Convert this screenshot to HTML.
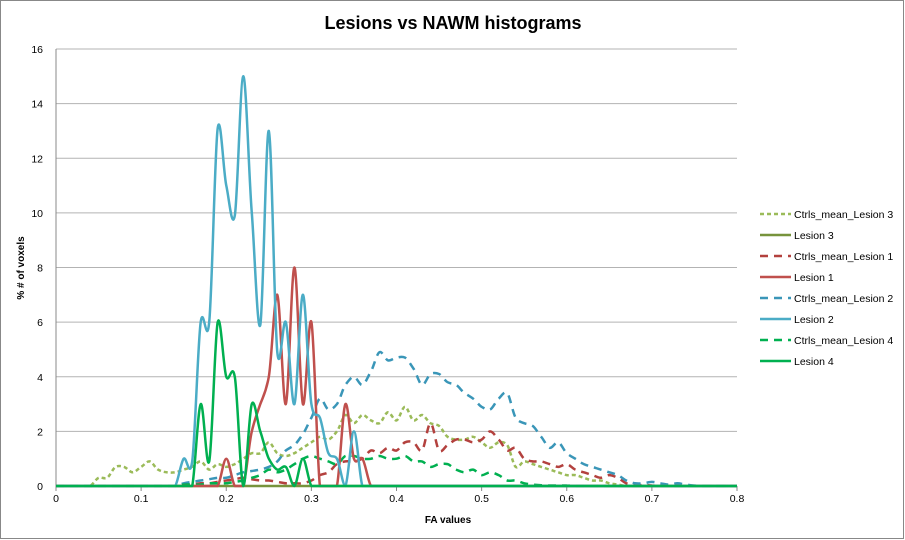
<!DOCTYPE html>
<html><head><meta charset="utf-8">
<style>
body{margin:0;background:#fff;}
svg{display:block;font-family:"Liberation Sans",sans-serif;}
</style></head>
<body>
<svg id="chart" width="905" height="540" viewBox="0 0 905 540">
<rect x="0.5" y="0.5" width="903" height="538" fill="#fff" stroke="#888"/>
<text x="453" y="29" text-anchor="middle" font-size="18" font-weight="bold" fill="#000">Lesions vs NAWM histograms</text>
<g id="grid"></g><g id="axes"></g><g id="series"></g><g id="legend"></g>
<text x="448" y="523" text-anchor="middle" font-size="10" font-weight="bold">FA values</text>
<text transform="translate(24,268) rotate(-90)" text-anchor="middle" font-size="10" font-weight="bold">% # of voxels</text>
</svg>
<script>
const xTicks=[0,0.1,0.2,0.3,0.4,0.5,0.6,0.7,0.8];
const yTicks=[0,2,4,6,8,10,12,14,16];
const seriesNames=["Ctrls_mean_Lesion 3","Lesion 3","Ctrls_mean_Lesion 1","Lesion 1","Ctrls_mean_Lesion 2","Lesion 2","Ctrls_mean_Lesion 4","Lesion 4"];
// values at FA = 0.00, 0.01, ... 0.80
const ctrl3=[0,0,0,0,0,.3,.3,.7,.7,.5,.7,.9,.6,.5,.5,.6,.7,.9,.6,.8,.7,.8,1,1.2,1.2,1.6,1.2,1.1,1.2,1.4,1.6,1.8,1.7,2,2.6,2.3,2.6,2.4,2.3,2.7,2.4,2.9,2.4,2.6,2.3,2.2,1.8,1.7,1.7,1.8,1.6,1.4,1.6,1.5,.7,.9,.8,.7,.6,.5,.4,.4,.3,.2,.2,.1,.05,0,0,0,0,0,0,0,0,0,0,0,0,0,0];
const lesion3=[0,0,0,0,0,0,0,0,0,0,0,0,0,0,0,0,0,0,0,0,0,0,0,0,0,0,0,0,0,0,0,0,0,0,0,0,0,0,0,0,0,0,0,0,0,0,0,0,0,0,0,0,0,0,0,0,0,0,0,0,0,0,0,0,0,0,0,0,0,0,0,0,0,0,0,0,0,0,0,0,0];
const ctrl1=[0,0,0,0,0,0,0,0,0,0,0,0,0,0,0,0,.05,.1,.1,.15,.2,.25,.3,.25,.2,.2,.15,.1,.1,.1,.2,.4,.5,.8,.9,.9,1,1.3,1.2,1.4,1.3,1.6,1.6,1.3,2.3,1.3,1.5,1.7,1.7,1.6,1.7,2,1.7,1.3,1.4,1,.9,.9,.8,.7,.8,.6,.5,.4,.3,.4,.3,.1,.05,.03,.02,0,0,0,0,0,0,0,0,0,0];
const lesion1=[0,0,0,0,0,0,0,0,0,0,0,0,0,0,0,0,0,0,0,0,1,0,0,2,3,4,7,3,8,3,6,0,0,0,3,1,1,0,0,0,0,0,0,0,0,0,0,0,0,0,0,0,0,0,0,0,0,0,0,0,0,0,0,0,0,0,0,0,0,0,0,0,0,0,0,0,0,0,0,0,0];
const ctrl2=[0,0,0,0,0,0,0,0,0,0,0,0,0,0,0,.1,.15,.2,.25,.3,.3,.4,.5,.55,.6,.7,.9,1.3,1.5,1.9,2.5,3.2,2.8,3,3.7,4,3.7,4.2,4.9,4.6,4.7,4.7,4.3,3.7,4.1,4.1,3.8,3.7,3.4,3.2,2.9,2.8,3.2,3.4,2.5,2.3,2.2,1.8,1.4,1.6,1.2,1,.8,.7,.6,.5,.4,.2,.1,.1,.15,.1,.05,.1,.05,.02,0,0,0,0,0];
const lesion2=[0,0,0,0,0,0,0,0,0,0,0,0,0,0,0,1,.9,6,6,13.1,11,9.9,15,10,5.9,13,4.9,6,3,7,3,2.5,1.2,1,0,2,0,0,0,0,0,0,0,0,0,0,0,0,0,0,0,0,0,0,0,0,0,0,0,0,0,0,0,0,0,0,0,0,0,0,0,0,0,0,0,0,0,0,0,0,0];
const ctrl4=[0,0,0,0,0,0,0,0,0,0,0,0,0,0,0,.05,.05,.05,.1,.1,.1,.15,.2,.3,.4,.6,.5,.6,.8,1,1.1,1,.9,.8,1.1,1.1,1,1,1.1,1,1,1.1,.9,.9,.7,.8,.8,.6,.5,.6,.4,.5,.4,.2,.2,.1,.05,.03,.02,.02,.02,0,0,0,0,0,0,0,0,0,0,0,0,0,0,0,0,0,0,0,0];
const lesion4=[0,0,0,0,0,0,0,0,0,0,0,0,0,0,0,0,0,3,.9,6,4,4,0,3,2,1,.6,.7,0,1,0,0,0,0,0,0,0,0,0,0,0,0,0,0,0,0,0,0,0,0,0,0,0,0,0,0,0,0,0,0,0,0,0,0,0,0,0,0,0,0,0,0,0,0,0,0,0,0,0,0,0];

const NS="http://www.w3.org/2000/svg";
const X0=56,X1=737,Y0=486,Y1=49;
const xs=v=>X0+(v/0.8)*(X1-X0);
const ys=v=>Y0-(v/16)*(Y0-Y1);
function mk(tag,attrs,parent){const e=document.createElementNS(NS,tag);for(const k in attrs)e.setAttribute(k,attrs[k]);parent.appendChild(e);return e;}
const grid=document.getElementById('grid'),axes=document.getElementById('axes');
yTicks.forEach(t=>{
  if(t>0){const l=mk('line',{x1:X0,x2:X1,y1:ys(t),y2:ys(t),stroke:'#b3b3b3','stroke-width':1},grid);
  
  }
  const tx=mk('text',{x:43,y:ys(t)+4,'text-anchor':'end','font-size':10.5,fill:'#000'},axes);
  tx.textContent=t;
  
  
});
const ax=mk('line',{x1:X0,x2:X1,y1:Y0,y2:Y0,stroke:'#888','stroke-width':1},axes);


const ay=mk('line',{x1:X0,x2:X0,y1:Y1,y2:Y0,stroke:'#888','stroke-width':1},axes);


xTicks.forEach(t=>{
  const tk=mk('line',{x1:xs(t),x2:xs(t),y1:Y0,y2:Y0+5,stroke:'#888'},axes);
  
  
  const tx=mk('text',{x:xs(t),y:Y0+16,'text-anchor':'middle','font-size':10.5},axes);
  tx.textContent=String(t);
  
  
});
function pathFor(arr){
  const p=arr.map((v,i)=>[xs(i/100),ys(v)]);
  let d='M'+p[0][0].toFixed(1)+','+p[0][1].toFixed(1);
  for(let i=0;i<p.length-1;i++){
    const a=p[i-1]||p[i],b=p[i],c=p[i+1],e=p[i+2]||c;
    const c1=[b[0]+(c[0]-a[0])/6,Math.min(Y0,b[1]+(c[1]-a[1])/7)],c2=[c[0]-(e[0]-b[0])/6,Math.min(Y0,c[1]-(e[1]-b[1])/7)];
    d+='C'+c1[0].toFixed(1)+','+c1[1].toFixed(1)+' '+c2[0].toFixed(1)+','+c2[1].toFixed(1)+' '+c[0].toFixed(1)+','+c[1].toFixed(1);
  }
  return d;
}
const data=[ctrl3,lesion3,ctrl1,lesion1,ctrl2,lesion2,ctrl4,lesion4];
const colors=['#9BBB59','#77933C','#B3413E','#C0504D','#3A96B8','#4BACC6','#00B050','#00B050'];
const dashes=['4,3','','8,6','','8,6','','8,6',''];
const keys=['ctrls-mean-lesion-3','lesion-3','ctrls-mean-lesion-1','lesion-1','ctrls-mean-lesion-2','lesion-2','ctrls-mean-lesion-4','lesion-4'];
const order=[0,2,4,6,1,3,5,7];
const sg=document.getElementById('series');
order.forEach(i=>{
  const p=mk('path',{d:pathFor(data[i]),fill:'none',stroke:colors[i],'stroke-width':2.5,'stroke-dasharray':dashes[i]||'none','stroke-linejoin':'round'},sg);
  
  
});
const lg=document.getElementById('legend');
seriesNames.forEach((n,i)=>{
  const y=214+i*21;
  const g=mk('g',{},lg);
  
  
  mk('line',{x1:760,x2:791,y1:y,y2:y,stroke:colors[i],'stroke-width':2.5,'stroke-dasharray':dashes[i]||'none'},g);
  const t=mk('text',{x:794,y:y+4,'font-size':10.5},g);
  t.textContent=n;
});
</script>
</body></html>
